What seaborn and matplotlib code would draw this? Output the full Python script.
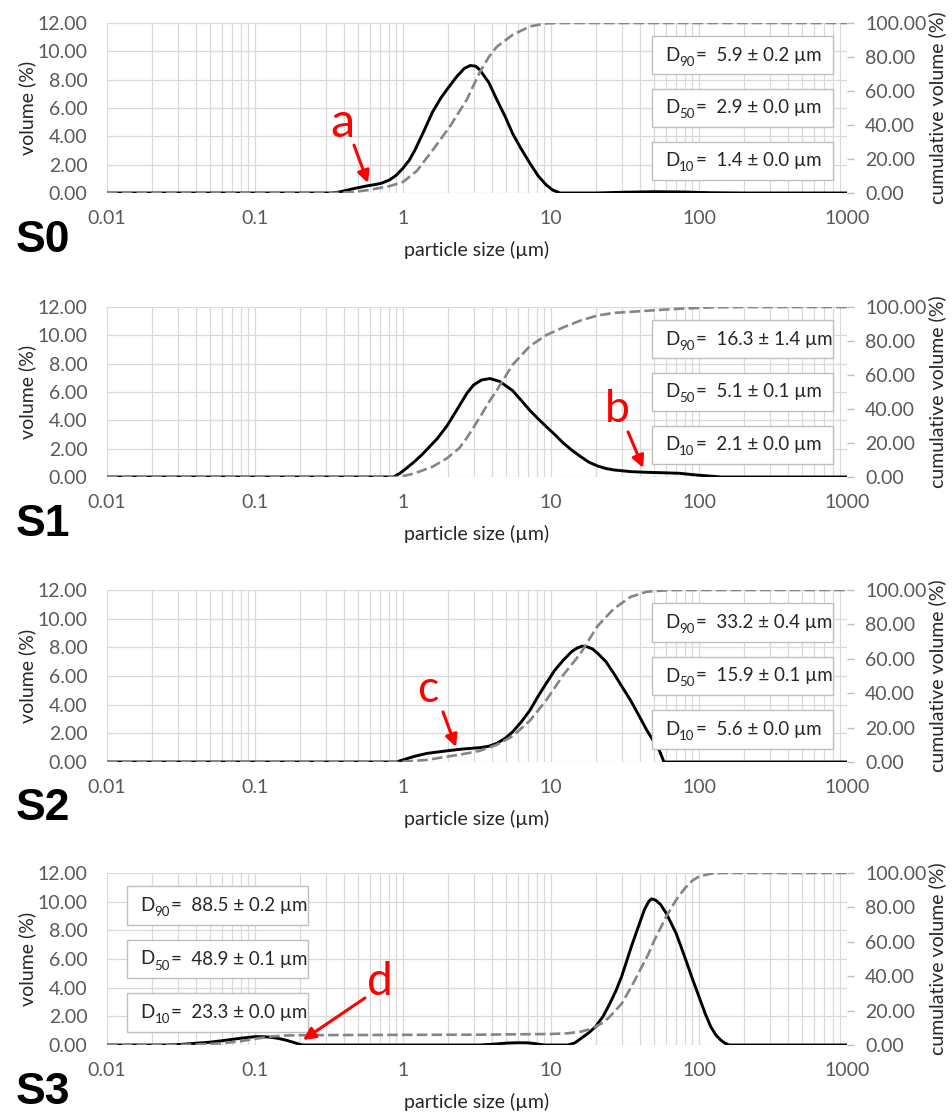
import matplotlib
matplotlib.use("Agg")
import matplotlib.pyplot as plt
from matplotlib.patches import Rectangle
from matplotlib.ticker import LogLocator, NullFormatter
import seaborn as sns

# ---- particle size distributions ----
# S0
s0_size = [0.01, 0.1, 0.33, 0.36, 0.4, 0.45, 0.5, 0.57, 0.65, 0.72, 0.81, 0.9, 1.0, 1.1, 1.2,
           1.36, 1.58, 1.8, 1.98, 2.3, 2.6, 2.85, 3.1, 3.3, 3.8, 4.3, 4.9, 5.5, 6.3, 7.2, 8.2,
           9.3, 10.3, 11.5, 20, 30, 50, 80, 120, 200, 1000]
s0_vol = [0, 0, 0, 0.05, 0.15, 0.28, 0.38, 0.5, 0.6, 0.7, 0.92, 1.25, 1.75, 2.3, 3.0,
          4.2, 5.7, 6.7, 7.3, 8.2, 8.8, 9.0, 8.95, 8.7, 7.8, 6.6, 5.4, 4.2, 3.1, 2.1, 1.2,
          0.56, 0.2, 0.0, 0.0, 0.05, 0.09, 0.07, 0.02, 0, 0]
s0_cum_size = [0.01, 0.33, 0.45, 0.57, 0.81, 1.0, 1.24, 1.58, 2.07, 2.7, 3.3, 3.8, 4.3, 5.5,
               7.2, 9.3, 12, 1000]
s0_cum = [0, 0, 0.5, 1.6, 4.0, 6.5, 13, 25, 39, 55, 71, 80, 86, 93, 98, 99.8, 100, 100]

# S1
s1_size = [0.01, 0.86, 0.95, 1.05, 1.2, 1.35, 1.5, 1.7, 1.98, 2.3, 2.7, 3.0, 3.4, 3.87, 4.5,
           5.5, 6.3, 7.2, 8.2, 9.3, 10.6, 12.1, 13.8, 15.8, 18, 20.6, 23.5, 26.5, 34.5, 44.5,
           57, 74, 96, 124, 140, 1000]
s1_vol = [0, 0, 0.25, 0.6, 1.1, 1.6, 2.1, 2.7, 3.6, 4.7, 5.9, 6.5, 6.85, 6.95, 6.75,
          6.1, 5.4, 4.7, 4.1, 3.55, 3.0, 2.4, 1.9, 1.45, 1.05, 0.78, 0.6, 0.5, 0.38, 0.33,
          0.3, 0.26, 0.14, 0.05, 0, 0]
s1_cum_size = [0.01, 0.9, 1.0, 1.2, 1.58, 1.98, 2.4, 2.7, 3.3, 3.8, 4.3, 5.5, 7.2, 9.3, 12.1,
               15.8, 20.6, 26.5, 44.5, 74, 124, 200, 1000]
s1_cum = [0, 0, 0.5, 2.2, 6, 11, 17, 23, 35, 44, 51, 66, 77, 83.5, 88,
          92, 95, 96.5, 97.8, 99, 99.8, 100, 100]

# S2
s2_size = [0.01, 0.9, 1.0, 1.2, 1.45, 1.98, 2.5, 3.3, 3.8, 4.3, 4.9, 5.5, 6.3, 7.2, 8.2, 9.3,
           10.6, 12.1, 13.8, 15.0, 16.2, 17.4, 19, 20.6, 23.5, 26.5, 30, 34.5, 39, 44.5, 50,
           54, 58, 1000]
s2_vol = [0, 0, 0.15, 0.4, 0.6, 0.78, 0.9, 1.0, 1.1, 1.3, 1.65, 2.1, 2.8, 3.6, 4.6, 5.5,
          6.4, 7.1, 7.7, 7.95, 8.08, 8.05, 7.9, 7.6, 7.0, 6.2, 5.3, 4.3, 3.3, 2.2, 1.35,
          0.8, 0, 0]
s2_cum_size = [0.01, 0.9, 1.0, 1.45, 1.98, 2.5, 3.3, 4.3, 5.5, 7.2, 9.3, 12.1, 15.8, 20.6,
               26.5, 34.5, 44.5, 57, 70, 1000]
s2_cum = [0, 0, 0.2, 1.2, 3.1, 4.5, 6.5, 10, 15, 24, 36, 50.6, 63, 79, 89, 96, 99, 99.7,
          100, 100]

# S3
s3_size = [0.01, 0.025, 0.03, 0.04, 0.05, 0.06, 0.07, 0.08, 0.1, 0.115, 0.13, 0.145, 0.16,
           0.18, 0.2, 0.21, 3.3, 4, 5, 6, 7, 8, 9, 13, 14.5, 16, 18, 20, 22.5, 25, 27.5, 30,
           35, 40, 43, 46, 48, 51, 55, 60, 70, 80, 90, 100, 110, 120, 130, 140, 150, 160, 1000]
s3_vol = [0, 0, 0.03, 0.12, 0.2, 0.3, 0.39, 0.47, 0.58, 0.58, 0.53, 0.45, 0.35,
          0.2, 0.05, 0, 0, 0.05, 0.13, 0.16, 0.15, 0.08, 0, 0, 0.15, 0.47, 0.85, 1.28, 2.0,
          2.9, 3.8, 4.77, 6.9, 8.6, 9.5, 10.05, 10.2, 10.1, 9.8, 9.2, 7.8, 6.16, 4.65, 3.37,
          2.2, 1.28, 0.7, 0.35, 0.12, 0, 0]
s3_cum_size = [0.01, 0.025, 0.04, 0.06, 0.08, 0.1, 0.13, 0.16, 0.2, 1, 3.3, 10, 13, 16, 18,
               20, 22.5, 25, 30, 35, 40, 45, 50, 60, 70, 80, 90, 100, 120, 140, 1000]
s3_cum = [0, 0, 0.3, 1.0, 2.2, 3.6, 5.0, 5.5, 5.7, 5.9, 6.0, 6.4, 6.8, 7.8, 9, 10.7, 13,
          16.5, 24, 34, 43.6, 52, 61, 74.6, 84.3, 91, 95.5, 98, 99.6, 100, 100]

sample_names = ["S0", "S1", "S2", "S3"]
d90_mean = [5.9, 16.3, 33.2, 88.5]
d90_err = [0.2, 1.4, 0.4, 0.2]
d50_mean = [2.9, 5.1, 15.9, 48.9]
d50_err = [0.0, 0.1, 0.1, 0.1]
d10_mean = [1.4, 2.1, 5.6, 23.3]
d10_err = [0.0, 0.0, 0.0, 0.0]

# annotation letters and the (size, volume) point their arrows touch
mark_letters = ["a", "b", "c", "d"]
mark_size = [0.58, 41.9, 2.28, 0.211]
mark_vol = [0.7, 0.64, 1.05, 0.35]

x_ticks = [0.01, 0.1, 1, 10, 100, 1000]
x_tick_labels = ["0.01", "0.1", "1", "10", "100", "1000"]
vol_ticks = [0, 2, 4, 6, 8, 10, 12]
cum_ticks = [0, 20, 40, 60, 80, 100]

vol_sizes = [s0_size, s1_size, s2_size, s3_size]
vol_vals = [s0_vol, s1_vol, s2_vol, s3_vol]
cum_sizes = [s0_cum_size, s1_cum_size, s2_cum_size, s3_cum_size]
cum_vals = [s0_cum, s1_cum, s2_cum, s3_cum]

# ---- styling ----
sns.set_theme(style="white")
plt.rcParams["font.family"] = ["Lato", "DejaVu Sans"]

GRID = "#d9d9d9"
TICK = "#595959"
TEXT = "#262626"
GRAY = "#858585"

W, H = 952, 1113
fig = plt.figure(figsize=(W / 100, H / 100), dpi=100)

ax_left, ax_right = 107, 847
panel_top = [23, 307, 590, 873]
panel_bottom = [193, 477, 762, 1045]
s_label_base = [252, 536, 820, 1104]
box_side = ["right", "right", "right", "left"]
# arrow tail and letter position relative to the arrow head (pixels)
arrow_tail = [(-14, 38), (-15, 36), (-13, 35), (62, 42)]
letter_pos = [(-26, 46), (-26, 46), (-28, 45), (77, 45)]
letter_size = [35, 32, 32, 33]

for i in range(4):
    rect = [ax_left / W, 1 - panel_bottom[i] / H, (ax_right - ax_left) / W,
            (panel_bottom[i] - panel_top[i]) / H]
    ax = fig.add_axes(rect)
    ax2 = ax.twinx()
    ax.set_xscale("log")

    sns.lineplot(x=vol_sizes[i], y=vol_vals[i], ax=ax, color="black", lw=2.1)
    sns.lineplot(x=cum_sizes[i], y=cum_vals[i], ax=ax2, color=GRAY, lw=1.9,
                 linestyle=(0, (4, 1.6)))

    ax.set_xlim(0.01, 1000)
    ax.set_ylim(0, 12)
    ax2.set_ylim(0, 100)

    ax.set_xticks(x_ticks, x_tick_labels)
    ax.xaxis.set_minor_locator(LogLocator(base=10, subs=range(2, 10), numticks=20))
    ax.xaxis.set_minor_formatter(NullFormatter())
    ax.set_yticks(vol_ticks, [f"{v:.2f}" for v in vol_ticks])
    ax2.set_yticks(cum_ticks, [f"{v:.2f}" for v in cum_ticks])

    ax.grid(True, which="both", axis="x", color=GRID, lw=0.9)
    ax.grid(True, which="major", axis="y", color=GRID, lw=0.9)
    ax.set_axisbelow(True)
    for a in (ax, ax2):
        for sp in a.spines.values():
            sp.set_visible(False)

    ax.tick_params(axis="both", which="both", length=0, labelsize=14, labelcolor=TICK)
    ax.tick_params(axis="x", pad=12)
    ax.tick_params(axis="y", pad=14)
    ax2.tick_params(axis="y", length=5, width=1, color="#bfbfbf", direction="out",
                    labelsize=14, labelcolor=TICK, pad=8)

    ax.set_xlabel("particle size (µm)", fontsize=14, color=TEXT)
    ax.set_ylabel("volume (%)", fontsize=14, color=TEXT)
    ax2.set_ylabel("cumulative volume (%)", fontsize=14, color=TEXT)
    ph = panel_bottom[i] - panel_top[i]
    ax.xaxis.label.set_va("center")
    ax.xaxis.set_label_coords(0.5, -57 / ph)
    ax.yaxis.label.set_va("center")
    ax.yaxis.set_label_coords((27 - ax_left) / (ax_right - ax_left), 0.5)
    ax2.yaxis.label.set_va("center")
    ax2.yaxis.set_label_coords((937 - ax_left) / (ax_right - ax_left), 0.5)

    # D values boxes: "D" + small lowered subscript + value text
    if box_side[i] == "right":
        bx, tx = 0.736, 0.754
    else:
        bx, tx = 0.027, 0.045
    rows = [("90", d90_mean[i], d90_err[i]), ("50", d50_mean[i], d50_err[i]),
            ("10", d10_mean[i], d10_err[i])]
    for (sub, m, e), cy in zip(rows, [0.81, 0.50, 0.19]):
        ax2.add_patch(Rectangle((bx, cy - 0.112), 0.245, 0.224, transform=ax2.transAxes,
                                facecolor="white", edgecolor="#bfbfbf", lw=1, zorder=5))
        t = ax2.text(tx, cy, "D", transform=ax2.transAxes, ha="left", va="center",
                     fontsize=13.5, color=TEXT, zorder=6)
        t = ax2.annotate(sub, xycoords=t, xy=(1, 0), xytext=(0, -4),
                         textcoords="offset pixels", ha="left", va="bottom",
                         fontsize=9.5, color=TEXT, zorder=6)
        ax2.annotate(f"=  {m:.1f} ± {e:.1f} µm", xycoords=t, xy=(1, 0),
                     xytext=(1, 4), textcoords="offset pixels", ha="left", va="bottom",
                     fontsize=13.5, color=TEXT, zorder=6)

    # red annotation
    head = (mark_size[i], mark_vol[i])
    ax2.annotate("", xy=head, xycoords=ax.transData, xytext=arrow_tail[i],
                 textcoords="offset pixels",
                 arrowprops=dict(arrowstyle="-|>", color="red", lw=2.2, mutation_scale=18,
                                 shrinkA=0, shrinkB=0), zorder=7)
    ax2.annotate(mark_letters[i], xy=head, xycoords=ax.transData, xytext=letter_pos[i],
                 textcoords="offset pixels", ha="center", va="baseline", color="red",
                 fontsize=letter_size[i], zorder=7)

    fig.text(16 / W, 1 - s_label_base[i] / H, sample_names[i], fontsize=32,
             fontweight="bold", family="Liberation Sans", ha="left", va="baseline",
             color="black")

fig.savefig("out.png", dpi=100)
